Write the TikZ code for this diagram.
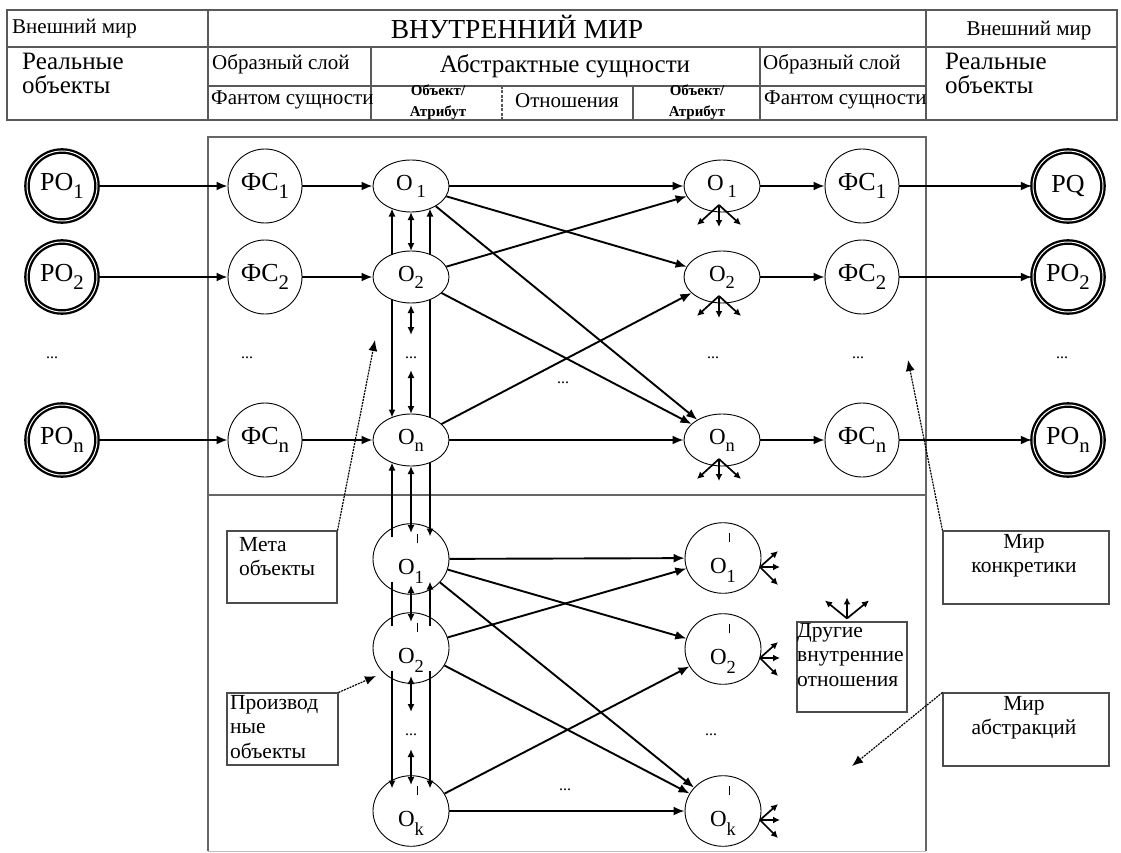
\documentclass[tikz,border=0pt]{standalone}
\usepackage{fontspec}
\setmainfont{LiberationSerif}[Extension=.ttf,UprightFont=*-Regular,BoldFont=*-Bold,ItalicFont=*-Italic]
\usetikzlibrary{shapes.geometric,arrows.meta,calc}
\newcommand\lo[1]{\raisebox{-0.3em}{\scalebox{0.8}{#1}}}
\newcommand\loo[1]{\raisebox{-0.42em}{\scalebox{0.8}{#1}}}
\newcommand\tck{\rlap{\hspace{0.08em}\raisebox{1.35em}{\rule{0.06em}{0.4em}}}}
\begin{document}
\begin{tikzpicture}[x=1pt,y=-1pt,
  po/.style={circle,draw,line width=2.3pt,double=white,double distance=1pt,minimum size=70pt,inner sep=0pt,font=\fontsize{26}{28}\selectfont},
  fs/.style={circle,draw,line width=0.9pt,minimum size=74pt,inner sep=0pt,font=\fontsize{26}{28}\selectfont},
  ob/.style={ellipse,draw,line width=0.9pt,minimum width=76pt,minimum height=52pt,inner sep=0pt,font=\fontsize{23}{25}\selectfont},
  arr/.style={line width=1.9pt,-{Latex[length=11pt,width=9pt]}},
  varr/.style={line width=1.7pt},
  vh/.style={-{Latex[length=8pt,width=7pt]}},
  vhh/.style={{Latex[length=8pt,width=7pt]}-{Latex[length=8pt,width=7pt]}},
  fan/.style={line width=1.7pt,-{Latex[length=7pt,width=7pt]}},
  lead/.style={line width=1.2pt,dash pattern=on 2pt off 1pt,-{Latex[length=11pt,width=9pt]}},
  frame/.style={draw=black!60,line width=1.2pt},
  hdr/.style={draw=black!65,line width=1.4pt},
  hs/.style={inner sep=0pt,font=\fontsize{21}{23}\selectfont},
  hm/.style={inner sep=0pt,font=\fontsize{25}{27}\selectfont},
  hb/.style={inner sep=0pt,font=\fontsize{27.5}{29}\selectfont},
  hx/.style={inner sep=0pt,font=\fontsize{15}{16}\selectfont\bfseries},
  dts/.style={inner sep=0pt,font=\fontsize{16}{17}\selectfont},
  cbox/.style={draw=black!70,line width=1.1pt,inner sep=0pt},
  ct/.style={inner sep=0pt,align=left,font=\fontsize{21.5}{24.5}\selectfont},
  ctc/.style={inner sep=0pt,align=center,font=\fontsize{21.5}{24.5}\selectfont}
]
\useasboundingbox (0,0) rectangle (1121,853);
\fill[white] (0,0) rectangle (1121,853);

% ---------- header table ----------
\draw[hdr] (7,10) rectangle (1117,120);
\draw[hdr] (7,47) -- (1117,47);
\draw[hdr] (208,10) -- (208,120);
\draw[hdr] (926,10) -- (926,120);
\draw[hdr] (208,86) -- (926,86);
\draw[hdr] (371,47) -- (371,120);
\draw[hdr] (760,47) -- (760,120);
\draw[hdr,dash pattern=on 3pt off 1.5pt] (502,86) -- (502,120);
\draw[hdr] (633,86) -- (633,120);

\node[hs,anchor=west] (h1) at (12,29) {Внешний мир};
\node[hb] (h2) at (517,27) {ВНУТРЕННИЙ МИР};
\node[hs] (h3) at (1029,31) {Внешний мир};
\node[hm,anchor=west] (h4) at (22,61) {Реальные};
\node[hm,anchor=west] (h5) at (22,85) {объекты};
\node[hm,anchor=west] (h6) at (945,61) {Реальные};
\node[hm,anchor=west] (h7) at (945,85) {объекты};
\node[hs,anchor=west] (h8) at (212,64) {Образный слой};
\node[hm] (h9) at (565,66) {Абстрактные сущности};
\node[hs,anchor=west] (h10) at (763,64) {Образный слой};
\node[hs,anchor=west] (h11) at (211,100) {Фантом сущности};
\node[hx] (h12) at (438,90) {Объект/};
\node[hx] (h13) at (438,113) {Атрибут};
\node[hs] (h14) at (567,101) {Отношения};
\node[hx] (h15) at (697,90) {Объект/};
\node[hx] (h16) at (697,113) {Атрибут};
\node[hs,anchor=west] (h17) at (764,100) {Фантом сущности};

% ---------- main frame ----------
\draw[frame] (208,851) -- (208,137) -- (926,137) -- (926,851);
\draw[draw=black!25,line width=0.8pt] (208,851.5) -- (926,851.5);
\draw[frame] (208,495) -- (926,495);

% ---------- nodes: top ----------
\node[po] (po1L) at (62,186) {PO\lo{1}};
\node[po] (po2L) at (62,277) {PO\lo{2}};
\node[po] (ponL) at (62,440) {PO\lo{n}};
\node[dts] (d1) at (52,358) {...};
\node[fs] (fs1L) at (265,186) {ФС\lo{1}};
\node[fs] (fs2L) at (265,277) {ФС\lo{2}};
\node[fs] (fsnL) at (265,440) {ФС\lo{n}};
\node[dts] (d2) at (247,358) {...};
\node[ob] (o1L) at (411,186) {O\,\lo{1}};
\node[ob] (o2L) at (411,277) {O\lo{2}};
\node[ob] (onL) at (411,440) {O\lo{n}};
\node[dts] (d3) at (411,358) {...};
\node[ob] (o1R) at (722,186) {O\,\lo{1}};
\node[ob] (o2R) at (722,277) {O\lo{2}};
\node[ob] (onR) at (722,440) {O\lo{n}};
\node[dts] (d4) at (713,358) {...};
\node[fs] (fs1R) at (862,186) {ФС\lo{1}};
\node[fs] (fs2R) at (862,277) {ФС\lo{2}};
\node[fs] (fsnR) at (862,440) {ФС\lo{n}};
\node[dts] (d5) at (858,358) {...};
\node[po] (po1R) at (1068,186) {PQ};
\node[po] (po2R) at (1068,277) {PO\lo{2}};
\node[po] (ponR) at (1068,440) {PO\lo{n}};
\node[dts] (d6) at (1062,358) {...};
\node[dts] (d7) at (563,383) {...};

% ---------- nodes: bottom ----------
\node[ob] (op1L) at (411,559) {O\tck\loo{1}};
\node[ob] (op2L) at (411,648) {O\tck\loo{2}};
\node[ob] (opkL) at (411,811) {O\tck\loo{k}};
\node[dts] (d8) at (411,735) {...};
\node[ob] (op1R) at (723,558) {O\tck\loo{1}};
\node[ob] (op2R) at (723,649) {O\tck\loo{2}};
\node[ob] (opkR) at (723,811) {O\tck\loo{k}};
\node[dts] (d9) at (711,735) {...};
\node[dts] (d10) at (565,790) {...};

% ---------- horizontal chains ----------
\foreach \a/\b in {po1L/fs1L,po2L/fs2L,ponL/fsnL,fs1L/o1L,fs2L/o2L,fsnL/onL,
  o1R/fs1R,o2R/fs2R,onR/fsnR,fs1R/po1R,fs2R/po2R,fsnR/ponR}
  \draw[arr] (\a) -- (\b);

% ---------- cross edges ----------
\foreach \a/\b in {o1L/o1R,o1L/o2R,o1L/onR,o2L/o1R,o2L/onR,onL/o2R,onL/onR,
  op1L/op1R,op1L/op2R,op1L/opkR,op2L/op1R,op2L/opkR,opkL/op2R,opkL/opkR}
  \draw[arr] (\a) -- (\b);

% ---------- vertical links ----------
\draw[varr,vh] ($(o2L)+(-19,-22.5)$) -- ($(o1L)+(-19,22.5)$);
\draw[varr,vhh] ($(o1L)+(0,26)$) -- ($(o2L)+(0,-26)$);
\draw[varr,vh] ($(o2L)+(19,-22.5)$) -- ($(o1L)+(19,22.5)$);

\draw[varr,vh] ($(o2L)+(-19,22.5)$) -- ($(onL)+(-19,-22.5)$);
\draw[varr,vhh] ($(o2L)+(0,28)$) -- ($(o2L)+(0,58)$);
\draw[varr,vhh] ($(onL)+(0,-70)$) -- ($(onL)+(0,-26)$);
\draw[varr] ($(o2L)+(19,22.5)$) -- ($(onL)+(19,-22.5)$);

\draw[varr,vh] ($(op1L)+(-19,-22.5)$) -- ($(onL)+(-19,22.5)$);
\draw[varr,vhh] ($(onL)+(0,26)$) -- ($(op1L)+(0,-26)$);
\draw[varr,vh] ($(onL)+(19,22.5)$) -- ($(op1L)+(19,-22.5)$);

\draw[varr] ($(op1L)+(-19,22.5)$) -- ($(op2L)+(-19,-22.5)$);
\draw[varr,vhh] ($(op1L)+(0,26)$) -- ($(op2L)+(0,-26)$);
\draw[varr,vh] ($(op2L)+(19,-22.5)$) -- ($(op1L)+(19,22.5)$);

\draw[varr,vh] ($(op2L)+(-19,22.5)$) -- ($(opkL)+(-19,-22.5)$);
\draw[varr,vhh] ($(op2L)+(0,28)$) -- ($(op2L)+(0,64)$);
\draw[varr,vhh] ($(opkL)+(0,-62)$) -- ($(opkL)+(0,-26)$);
\draw[varr,vh] ($(op2L)+(19,22.5)$) -- ($(opkL)+(19,-22.5)$);

% ---------- fans ----------
\foreach \n in {o1R,o2R,onR}{
  \draw[fan] ($(\n)+(-3,19)$) -- ($(\n)+(-25,39)$);
  \draw[fan] ($(\n)+(-3,19)$) -- ($(\n)+(-3,41)$);
  \draw[fan] ($(\n)+(-3,19)$) -- ($(\n)+(19,39)$);
}
\foreach \n in {op1R,op2R,opkR}{
  \draw[fan] ($(\n)+(37,9)$) -- ($(\n)+(55,-7)$);
  \draw[fan] ($(\n)+(37,9)$) -- ($(\n)+(57,9)$);
  \draw[fan] ($(\n)+(37,9)$) -- ($(\n)+(55,27)$);
}

% ---------- callouts ----------
\node[cbox,minimum width=110pt,minimum height=72pt] (meta) at (282,567) {};
\node[ct,anchor=north west] (metat) at (239,537) {Мета\\объекты};
\node[cbox,minimum width=111pt,minimum height=72pt] (proizv) at (282.5,729) {};
\node[ct,anchor=north west] (proizvt) at (230,695) {Производ\\ные\\объекты};
\node[cbox,minimum width=110pt,minimum height=90pt] (drug) at (852,667) {};
\node[ct,anchor=north west] (drugt) at (797,623) {Другие\\внутренние\\отношения};
\node[cbox,minimum width=166pt,minimum height=73pt] (konk) at (1026,567.5) {};
\node[ctc,anchor=north] (konkt) at (1024,534) {Мир\\конкретики};
\node[cbox,minimum width=166pt,minimum height=73pt] (abst) at (1026,729.5) {};
\node[ctc,anchor=north] (abstt) at (1024,696) {Мир\\абстракций};

\coordinate (metaA) at (375,340);
\coordinate (proizvA) at (376,676);
\coordinate (konkA) at (908,360);
\coordinate (abstA) at (852,766);
\draw[lead] (meta.north east) -- (metaA);
\draw[lead] (proizv.north east) -- (proizvA);
\draw[lead] (konk.north west) -- (konkA);
\draw[lead] (abst.north west) -- (abstA);

\coordinate (fanO) at ($(drug.north)+(-5,-3)$);
\draw[fan] (fanO) -- ($(fanO)+(-22,-18)$);
\draw[fan] (fanO) -- ($(fanO)+(0,-21)$);
\draw[fan] (fanO) -- ($(fanO)+(22,-18)$);
\end{tikzpicture}
\end{document}
